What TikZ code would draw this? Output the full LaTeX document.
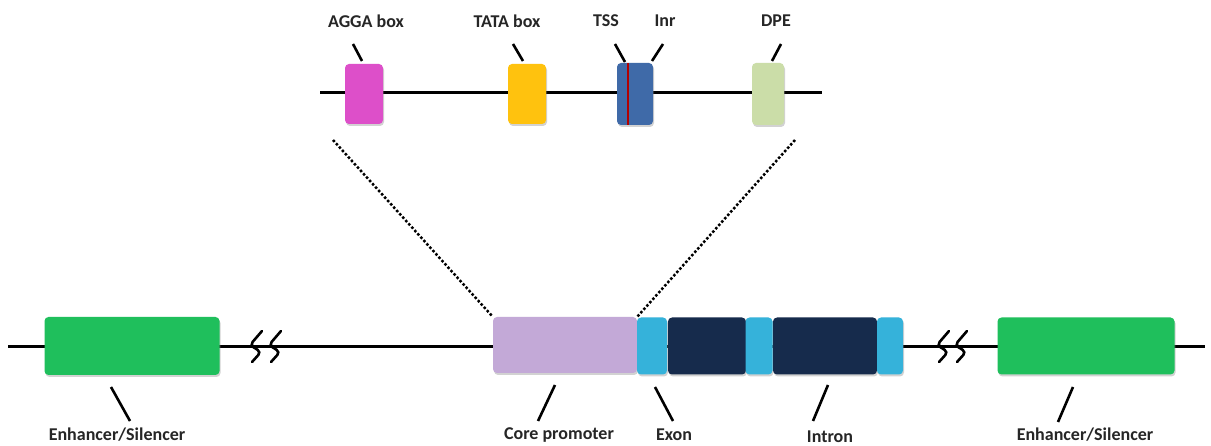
\documentclass[tikz,border=0pt]{standalone}
\usepackage{fontspec}
\setmainfont{Carlito}
\usetikzlibrary{shadows}
\definecolor{agga}{HTML}{DD4FC9}
\definecolor{tata}{HTML}{FFC20E}
\definecolor{tss}{HTML}{3F6AA8}
\definecolor{dpe}{HTML}{CBDDA8}
\definecolor{enh}{HTML}{1FBF5C}
\definecolor{core}{HTML}{C3A9D7}
\definecolor{exon}{HTML}{35B2DA}
\definecolor{intron}{HTML}{162B4C}
\tikzset{
  box/.style={rounded corners=4pt, inner sep=0pt, draw=none,
    drop shadow={opacity=0.35, shadow xshift=1pt, shadow yshift=-2pt}},
  dna/.style={line width=3pt, black},
  lead/.style={line width=2.6pt, black},
  lbl/.style={font=\bfseries\fontsize{18}{20}\selectfont, inner sep=0pt, text=black!85},
  zoomline/.style={line width=2.5pt, dotted, black},
  brk/.style={line width=2.6pt, black, line cap=round, rounded corners=4pt}
}
\begin{document}
\begin{tikzpicture}[x=1pt,y=-1pt]
\useasboundingbox[fill=white] (0,0) rectangle (1211,446);
% ---- top (zoomed) strand
\coordinate (tl) at (320,93);
\coordinate (tr) at (822,93);
\draw[dna] (tl) -- (tr);
\node[box, fill=agga, minimum width=38pt, minimum height=60pt] (agga) at (364,94) {};
\node[box, fill=tata, minimum width=38pt, minimum height=60pt] (tata) at (527,94) {};
\node[box, fill=tss, minimum width=36pt, minimum height=62pt] (tss) at (635,94) {};
\draw[line width=1.6pt, red!70!black] ([xshift=-7pt]tss.north) -- ([xshift=-7pt]tss.south);
\node[box, fill=dpe, minimum width=32pt, minimum height=62pt] (dpe) at (768,94) {};
% top labels
\node[lbl] (lagga) at (366,21) {AGGA box};
\node[lbl] (ltata) at (507,21) {TATA box};
\node[lbl] (ltss) at (606,21) {TSS};
\node[lbl] (linr) at (665,21) {Inr};
\node[lbl] (ldpe) at (776,21) {DPE};
\draw[lead] (353,44) -- (362,61);
\draw[lead] (513,44) -- (523,61);
\draw[lead] (615,44) -- (625,62);
\draw[lead] (663,44) -- (652,61);
\draw[lead] (781,44) -- (772,61);
% ---- bottom strand
\coordinate (bl) at (8,347);
\coordinate (br) at (1205,347);
\draw[dna] (bl) -- (br);
% breaks
\foreach \x in {250,269,937,955}{
  \draw[brk] (\x+12,331) -- (\x,345) -- (\x+11,352) -- (\x+2,362);
}
\node[box, fill=enh, minimum width=175pt, minimum height=58pt] (enhl) at (132,346) {};
\node[box, fill=enh, minimum width=177pt, minimum height=57pt] (enhr) at (1086,346) {};
\node[box, fill=core, minimum width=144pt, minimum height=56pt] (core) at (565,345) {};
\node[box, fill=exon, minimum width=30pt, minimum height=57pt] (ex1) at (652,346) {};
\node[box, fill=intron, minimum width=78pt, minimum height=57pt] (in1) at (707,346) {};
\node[box, fill=exon, minimum width=27pt, minimum height=57pt] (ex2) at (759,346) {};
\node[box, fill=intron, minimum width=104pt, minimum height=57pt] (in2) at (825,346) {};
\node[box, fill=exon, minimum width=26pt, minimum height=57pt] (ex3) at (890,346) {};
% zoom lines
\draw[zoomline] (333,140) -- (core.north west);
\draw[zoomline] (795,140) -- (core.north east);
% bottom labels
\node[lbl] (lenhl) at (117,435) {Enhancer/Silencer};
\node[lbl] (lcore) at (559,435) {Core promoter};
\node[lbl] (lexon) at (674,435) {Exon};
\node[lbl] (lintron) at (830,437) {Intron};
\node[lbl] (lenhr) at (1085,435) {Enhancer/Silencer};
\draw[lead] (111,387) -- (130,421);
\draw[lead] (555,385) -- (538,421);
\draw[lead] (655,387) -- (673,421);
\draw[lead] (828,385) -- (813,421);
\draw[lead] (1073,387) -- (1058,422);
\end{tikzpicture}
\end{document}
